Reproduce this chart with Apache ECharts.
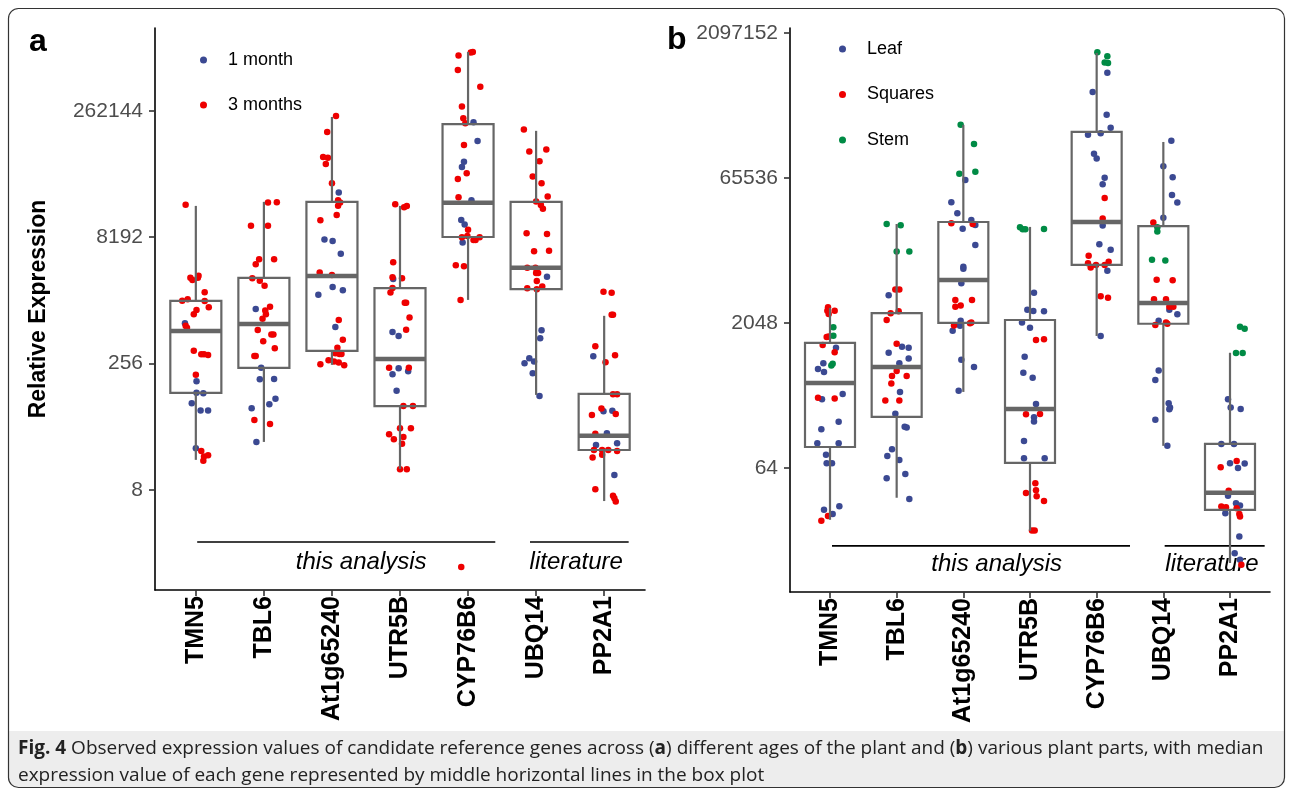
<!DOCTYPE html>
<html>
<head>
<meta charset="utf-8">
<script src="https://cdn.jsdelivr.net/npm/echarts@6/dist/echarts.min.js"></script>
<style>
  html, body { margin: 0; background: #fff; }
  #chart { width: 1292px; height: 795px; }
</style>
</head>
<body>
<div id="chart"></div>
<script>
  const genes = ['TMN5', 'TBL6', 'At1g65240', 'UTR5B', 'CYP76B6', 'UBQ14', 'PP2A1']
  const ticksA = [8, 256, 8192, 262144]
  const ticksB = [64, 2048, 65536, 2097152]

  // box stats, log2 of relative expression: [low whisker, Q1, median, Q3, high whisker]
  const boxA = [
    [4.19, 6.84, 9.29, 10.48, 14.24],
    [4.90, 7.83, 9.57, 11.39, 14.40],
    [7.95, 8.50, 11.47, 14.40, 17.76],
    [3.83, 6.32, 8.18, 10.99, 14.24],
    [10.52, 13.01, 14.36, 17.48, 20.33],
    [6.76, 10.95, 11.79, 14.40, 17.21],
    [2.56, 4.58, 5.14, 6.80, 9.89]
  ]
  const boxB = [
    [4.21, 6.72, 8.93, 10.31, 11.52],
    [4.97, 7.76, 9.48, 11.34, 14.41],
    [8.62, 11.00, 12.48, 14.48, 17.83],
    [3.83, 6.17, 8.03, 11.10, 14.31],
    [10.55, 13.00, 14.48, 17.59, 20.31],
    [6.76, 10.97, 11.69, 14.34, 17.24],
    [2.72, 4.55, 5.14, 6.83, 9.97]
  ]

  // points: [gene number, jitter, log2 expression]
  const aMonth1 = [
    [1,-.16,9.60],[1,.01,7.30],[1,.01,6.85],[1,.11,6.83],[1,-.06,6.43],[1,.07,6.14],[1,.18,6.14],[1,0,4.65],
    [2,-.12,10.16],[2,-.04,7.84],[2,-.06,7.38],[2,.15,7.39],[2,.17,6.61],[2,-.18,6.23],[2,.08,6.39],[2,-.11,4.90],
    [3,.1,14.77],[3,-.11,12.91],[3,.01,12.85],[3,.13,12.35],[3,.01,11.03],[3,.16,10.90],[3,-.2,10.72],[3,.05,9.45],
    [4,-.1,11.35],[4,-.11,9.25],[4,-.02,9.09],[4,-.02,7.82],[4,.12,7.70],[4,-.11,7.58],[4,-.05,6.92],
    [5,.08,17.55],[5,.14,16.81],[5,-.06,15.99],[5,-.09,15.78],[5,.05,14.46],[5,-.1,13.68],[5,-.05,13.50],[5,-.08,12.79],
    [6,.16,11.44],[6,.08,9.32],[6,.06,9.00],[6,-.1,8.21],[6,-.17,8.01],[6,-.03,8.08],[6,-.05,7.62],[6,.05,6.72],
    [7,-.16,8.29],[7,-.01,6.11],[7,.12,6.13],[7,.04,5.24],[7,-.12,4.78],[7,.19,4.85],[7,.15,3.59]
  ]
  const aMonth3 = [
    [1,-.15,14.29],[1,-.08,11.40],[1,-.05,11.31],[1,.04,11.48],[1,.03,11.40],[1,.13,10.82],[1,-.2,10.49],[1,-.12,10.55],
    [1,.13,10.48],[1,.19,10.23],[1,.01,10.12],[1,-.03,9.95],[1,-.15,9.50],[1,-.13,9.42],[1,-.03,8.51],[1,.08,8.37],
    [1,.12,8.37],[1,.18,8.34],[1,0,7.56],[1,.08,4.54],[1,.12,4.32],[1,.18,4.37],[1,.11,4.15],
    [2,.06,14.37],[2,.19,14.38],[2,-.19,13.45],[2,.06,13.45],[2,-.07,12.13],[2,-.12,11.93],[2,.15,12.13],[2,-.17,11.38],
    [2,-.06,11.28],[2,.01,11.08],[2,.09,10.25],[2,.02,10.10],[2,.03,9.95],[2,-.02,9.77],[2,-.09,9.33],[2,.11,9.15],
    [2,.14,9.15],[2,-.01,8.88],[2,.16,8.61],[2,-.14,8.30],[2,-.12,8.30],[2,-.14,5.77],[2,.09,5.61],
    [3,.06,17.80],[3,-.07,17.16],[3,-.13,16.18],[3,-.06,16.15],[3,-.09,15.90],[3,0,15.14],[3,.09,14.46],[3,.12,14.37],
    [3,.09,14.25],[3,.07,13.88],[3,-.17,13.67],[3,-.18,11.60],[3,0,11.51],[3,.1,9.72],[3,.16,8.94],[3,.08,8.63],
    [3,.05,8.41],[3,.11,8.38],[3,.14,8.38],[3,-.17,7.97],[3,-.05,8.13],[3,.03,8.08],[3,.1,8.04],[3,.18,7.93],
    [4,-.07,14.31],[4,.06,14.19],[4,.1,14.24],[4,-.1,12.01],[4,-.11,11.42],[4,.03,11.38],[4,-.14,10.81],[4,-.11,10.99],
    [4,.07,10.41],[4,.09,10.41],[4,.14,9.82],[4,.09,9.34],[4,-.16,7.84],[4,.13,7.84],[4,.05,6.32],[4,.19,6.32],
    [4,0,5.44],[4,.16,5.44],[4,-.16,5.20],[4,-.09,5.01],[4,.05,5.09],[4,.03,4.83],[4,0,3.82],[4,.1,3.82],
    [5,-.14,20.19],[5,.04,20.31],[5,.07,20.33],[5,-.15,19.62],[5,.18,18.96],[5,-.09,18.17],[5,-.07,17.71],[5,-.04,17.51],
    [5,-.06,16.65],[5,-.02,15.53],[5,-.15,15.30],[5,-.14,14.58],[5,0,13.30],[5,-.09,13.00],[5,-.01,13.05],[5,.08,12.89],
    [5,.17,13.00],[5,.11,12.89],[5,-.18,11.89],[5,-.06,11.85],[5,-.11,10.52],[5,-.1,-0.05],
    [6,-.18,17.26],[6,-.1,16.39],[6,.15,16.47],[6,.05,16.01],[6,-.05,15.40],[6,.08,15.14],[6,.17,14.61],[6,0,14.41],
    [6,.07,14.28],[6,.1,14.13],[6,-.14,13.16],[6,.16,13.13],[6,-.03,12.45],[6,.19,12.47],[6,-.13,11.79],[6,-.01,11.79],
    [6,0,11.58],[6,.03,11.58],[6,.01,11.27],[6,-.13,10.98],[6,.01,10.94],[6,.09,11.05],
    [7,-.01,10.84],[7,.11,10.80],[7,.11,9.93],[7,.13,9.93],[7,-.13,8.69],[7,.16,8.33],[7,.02,8.05],[7,.13,6.79],
    [7,.19,6.79],[7,-.04,6.22],[7,.17,6.00],[7,-.18,5.97],[7,-.13,5.22],[7,-.15,4.58],[7,-.03,4.58],[7,.06,4.58],
    [7,.19,4.54],[7,-.17,4.28],[7,-.03,4.39],[7,-.13,3.03],[7,.13,2.77],[7,.15,2.67],[7,.17,2.54]
  ]

  const bLeaf = [
    [1,.09,10.14],[1,-.1,9.61],[1,-.18,9.41],[1,-.09,9.31],[1,-.12,8.37],[1,.19,8.55],[1,.13,7.59],[1,-.13,7.33],
    [1,-.19,6.85],[1,.13,6.85],[1,-.06,6.45],[1,-.05,6.16],[1,.03,6.16],[1,-.09,4.56],[1,.14,4.68],[1,.04,4.41],
    [2,-.12,11.95],[2,.08,10.18],[2,.18,10.14],[2,-.12,9.97],[2,.18,9.77],[2,.04,9.61],[2,.05,8.62],[2,-.02,7.87],
    [2,.12,7.42],[2,.15,7.39],[2,-.07,6.64],[2,-.14,6.41],[2,.04,6.27],[2,-.15,5.64],[2,.13,5.79],[2,.19,4.93],
    [3,.03,15.93],[3,-.18,15.16],[3,-.09,14.78],[3,.12,14.55],[3,.18,14.38],[3,-.01,14.25],[3,.18,13.69],[3,0,12.94],
    [3,0,12.87],[3,-.03,12.37],[3,-.04,11.07],[3,-.05,10.90],[3,-.16,10.73],[3,-.03,9.73],[3,.16,9.48],[3,-.07,8.66],
    [4,.06,12.04],[4,-.04,11.45],[4,.05,11.41],[4,.21,11.40],[4,-.12,11.01],[4,0,10.83],[4,-.08,9.83],[4,-.1,9.28],
    [4,.04,9.11],[4,.09,8.20],[4,.06,7.75],[4,.06,7.60],[4,-.09,6.93],[4,-.09,6.33],[4,.22,6.33],
    [5,.16,19.63],[5,-.06,18.96],[5,.15,18.18],[5,.21,17.73],[5,-.13,17.49],[5,.06,17.54],[5,-.04,16.83],[5,0,16.67],
    [5,.12,16.01],[5,.09,15.78],[5,.09,14.36],[5,.04,13.71],[5,.21,13.52],[5,.16,12.80],[5,.06,10.55],
    [6,.12,17.28],[6,0,16.40],[6,.14,16.02],[6,.13,15.41],[6,.21,15.15],[6,0,14.63],[6,.09,11.45],[6,.21,11.30],
    [6,-.07,11.07],[6,-.07,9.36],[6,-.12,9.03],[6,.08,8.23],[6,.1,8.08],[6,.09,8.02],[6,-.12,7.66],[6,.06,6.76],
    [7,-.03,8.37],[7,.01,8.08],[7,.16,8.03],[7,-.13,6.82],[7,.06,6.82],[7,0,6.16],[7,.12,6.00],[7,.22,6.15],
    [7,-.03,5.04],[7,.09,4.78],[7,.15,4.70],[7,-.07,4.44],[7,.14,3.63],[7,.07,3.06],[7,.15,2.83]
  ]
  const bSquares = [
    [1,-.03,11.54],[1,-.04,11.42],[1,.07,11.42],[1,-.02,11.31],[1,-.05,10.51],[1,-.02,10.53],[1,-.11,10.24],[1,.07,9.99],
    [1,-.18,8.42],[1,.07,8.39],[1,-.03,4.34],[1,-.13,4.18],
    [2,-.02,12.15],[2,.04,12.15],[2,-.09,11.33],[2,.03,11.40],[2,-.15,11.10],[2,0,10.28],[2,0,9.34],[2,-.07,9.17],
    [2,.15,9.17],[2,-.08,8.91],[2,-.17,8.32],[2,.04,8.32],
    [3,-.18,14.44],[3,.14,14.41],[3,-.12,11.79],[3,-.04,11.60],[3,-.12,11.56],[3,.13,11.79],[3,-.14,10.91],[3,.1,10.99],[3,.12,11.01],
    [4,.09,10.41],[4,.21,10.44],[4,-.06,7.85],[4,.15,7.86],[4,.08,5.47],[4,.09,5.23],[4,-.06,5.13],[4,.1,5.02],
    [4,.21,4.86],[4,.03,3.84],[4,.07,3.84],
    [5,.12,15.31],[5,.09,14.60],[5,-.12,13.32],[5,-.13,13.06],[5,-.09,12.91],[5,-.01,13.00],[5,.12,13.00],[5,.18,13.11],
    [5,.06,11.92],[5,.17,11.87],
    [6,-.15,14.46],[6,-.1,12.49],[6,.14,12.47],[6,-.14,11.82],[6,.04,11.82],[6,.09,11.56],[6,.15,11.56],[6,-.12,10.93],
    [6,.04,11.01],[6,.06,10.97],
    [7,-.14,6.02],[7,.1,6.24],[7,-.02,5.21],[7,-.13,4.67],[7,-.06,4.64],[7,.1,4.61],[7,.14,4.41],[7,.15,4.32],[7,.17,2.66]
  ]
  const bStem = [
    [1,.05,10.85],[1,.05,10.56],[1,.02,9.53],[1,.04,9.59],
    [2,-.15,14.41],[2,.06,14.37],[2,0,13.46],[2,.19,13.46],
    [3,-.04,17.83],[3,.16,17.17],[3,-.06,16.14],[3,.18,16.21],
    [4,-.15,14.30],[4,-.11,14.23],[4,-.07,14.23],[4,.21,14.24],
    [5,.01,20.33],[5,.16,20.20],[5,.12,19.98],[5,.17,19.96],
    [6,-.09,14.30],[6,-.09,14.15],[6,-.17,13.18],[6,.03,13.15],
    [7,.15,10.87],[7,.22,10.80],[7,.09,9.96],[7,.19,9.96]
  ]

  // bracket notes under the boxes: [text, line from, line to, line level, text x, text level]
  const notesA = [['this analysis', 1.02, 5.4, 0.94, 3.43, 0.15], ['literature', 5.91, 7.36, 0.94, 6.59, 0.15]]
  const notesB = [['this analysis', 1.03, 5.5, 3.31, 3.5, 2.66], ['literature', 6.02, 7.52, 3.31, 6.73, 2.66]]

  const blue = '#3B4992'
  const red = '#EE0000'
  const green = '#008B45'
  const font = 'Liberation Sans, Arial, sans-serif'

  const toXY = pts => pts.map(p => [p[0] + p[1], p[2]])
  const log2 = v => Math.log2(v)

  function boxItem (params, api) {
    const x = api.value(0)
    const lo = api.coord([x, api.value(1)])
    const q1 = api.coord([x, api.value(2)])
    const md = api.coord([x, api.value(3)])
    const q3 = api.coord([x, api.value(4)])
    const hi = api.coord([x, api.value(5)])
    const w = api.size([0.75, 0])[0]
    const cx = lo[0]
    const st = { stroke: '#666666', lineWidth: 2.2, fill: 'none' }
    return {
      type: 'group',
      children: [
        { type: 'line', shape: { x1: cx, y1: hi[1], x2: cx, y2: q3[1] }, style: st },
        { type: 'line', shape: { x1: cx, y1: q1[1], x2: cx, y2: lo[1] }, style: st },
        { type: 'rect', shape: { x: cx - w / 2, y: q3[1], width: w, height: q1[1] - q3[1] }, style: st },
        { type: 'line', shape: { x1: cx - w / 2, y1: md[1], x2: cx + w / 2, y2: md[1] }, style: { stroke: '#666666', lineWidth: 4.5 } }
      ]
    }
  }

  function noteItem (notes) {
    return function (params, api) {
      const n = notes[params.dataIndex]
      const a = api.coord([n[1], n[3]])
      const b = api.coord([n[2], n[3]])
      const t = api.coord([n[4], n[5]])
      return {
        type: 'group',
        children: [
          { type: 'line', shape: { x1: a[0], y1: a[1], x2: b[0], y2: b[1] }, style: { stroke: '#000', lineWidth: 1.6 } },
          { type: 'text', x: t[0], y: t[1], style: { text: n[0], font: 'italic 24px ' + font, fill: '#000', align: 'center', verticalAlign: 'middle' } }
        ]
      }
    }
  }

  function xAxis (grid) {
    return {
      type: 'value', gridIndex: grid, min: 0.4, max: 7.6,
      axisLine: { show: true, onZero: false, lineStyle: { color: '#000', width: 1.6 } },
      axisTick: { show: true, length: 6, customValues: [1, 2, 3, 4, 5, 6, 7], lineStyle: { color: '#333', width: 1.6 } },
      axisLabel: {
        customValues: [1, 2, 3, 4, 5, 6, 7], rotate: 90, margin: 6,
        fontFamily: font, fontSize: 25, fontWeight: 'bold', color: '#000',
        formatter: v => genes[Math.round(v) - 1]
      },
      splitLine: { show: false }
    }
  }

  function yAxis (grid, min, max, ticks, name) {
    return {
      type: 'value', gridIndex: grid, min: min, max: max,
      name: name, nameLocation: 'middle', nameGap: 105, nameRotate: 90,
      nameTextStyle: { fontFamily: font, fontSize: 23, fontWeight: 'bold', color: '#000' },
      axisLine: { show: true, onZero: false, lineStyle: { color: '#000', width: 1.6 } },
      axisTick: { show: true, length: 6, customValues: ticks.map(log2), lineStyle: { color: '#333', width: 1.6 } },
      axisLabel: {
        customValues: ticks.map(log2), margin: 12,
        fontFamily: font, fontSize: 21, color: '#4D4D4D',
        formatter: v => String(Math.round(Math.pow(2, v)))
      },
      splitLine: { show: false }
    }
  }

  function dots (name, data, color, grid) {
    return {
      name: name, type: 'scatter', xAxisIndex: grid, yAxisIndex: grid,
      data: toXY(data), symbolSize: 6.5, itemStyle: { color: color, opacity: 1 }, z: 2
    }
  }

  const legendText = { fontFamily: font, fontSize: 18, color: '#000', padding: [0, 0, 0, 16], lineHeight: 20 }

  const chart = echarts.init(document.getElementById('chart'))
  chart.setOption({
    animation: false,
    backgroundColor: '#fff',
    title: [
      { text: 'a', left: 24, top: 21, textStyle: { fontFamily: font, fontSize: 32, fontWeight: 'bold', color: '#000' } },
      { text: 'b', left: 662, top: 19, textStyle: { fontFamily: font, fontSize: 32, fontWeight: 'bold', color: '#000' } }
    ],
    legend: [
      {
        data: ['1 month', '3 months'], left: 200, top: 50, orient: 'vertical', icon: 'circle',
        itemWidth: 7, itemHeight: 7, itemGap: 25, padding: 0, textStyle: legendText, selectedMode: false
      },
      {
        data: ['Leaf', 'Squares', 'Stem'], left: 839, top: 39, orient: 'vertical', icon: 'circle',
        itemWidth: 7, itemHeight: 7, itemGap: 25.5, padding: 0, textStyle: legendText, selectedMode: false
      }
    ],
    grid: [
      { left: 155, top: 28, width: 490, height: 562 },
      { left: 790, top: 28, width: 480, height: 564 }
    ],
    xAxis: [xAxis(0), xAxis(1)],
    yAxis: [yAxis(0, -0.96, 21.28, ticksA, 'Relative Expression'), yAxis(1, 1.72, 21.17, ticksB, '')],
    series: [
      dots('1 month', aMonth1, blue, 0),
      dots('3 months', aMonth3, red, 0),
      dots('Leaf', bLeaf, blue, 1),
      dots('Squares', bSquares, red, 1),
      dots('Stem', bStem, green, 1),
      {
        type: 'custom', xAxisIndex: 0, yAxisIndex: 0, z: 3,
        data: boxA.map((b, i) => [i + 1].concat(b)), renderItem: boxItem
      },
      {
        type: 'custom', xAxisIndex: 1, yAxisIndex: 1, z: 3,
        data: boxB.map((b, i) => [i + 1].concat(b)), renderItem: boxItem
      },
      { type: 'custom', xAxisIndex: 0, yAxisIndex: 0, data: notesA.map(n => [n[1], n[3]]), renderItem: noteItem(notesA) },
      { type: 'custom', xAxisIndex: 1, yAxisIndex: 1, data: notesB.map(n => [n[1], n[3]]), renderItem: noteItem(notesB) }
    ],
    graphic: [
      {
        type: 'rect', shape: { x: 9, y: 731, width: 1275, height: 56, r: [0, 0, 9, 9] },
        style: { fill: '#EDEDED' }, z: -1
      },
      {
        type: 'rect', shape: { x: 8.5, y: 8.5, width: 1276, height: 779, r: 10 },
        style: { fill: 'none', stroke: '#333', lineWidth: 1.2 }
      },
      {
        type: 'text', left: 18, top: 735,
        style: {
          text: '{b|Fig. 4} Observed expression values of candidate reference genes across ({b|a}) different ages of the plant and ({b|b}) various plant parts, with median\nexpression value of each gene represented by middle horizontal lines in the box plot',
          font: '19px Open Sans, sans-serif', fill: '#222', lineHeight: 27,
          rich: { b: { fontWeight: 'bold', fontFamily: 'Open Sans, sans-serif', fontSize: 19, fill: '#222' } }
        }
      }
    ]
  })
</script>
</body>
</html>
